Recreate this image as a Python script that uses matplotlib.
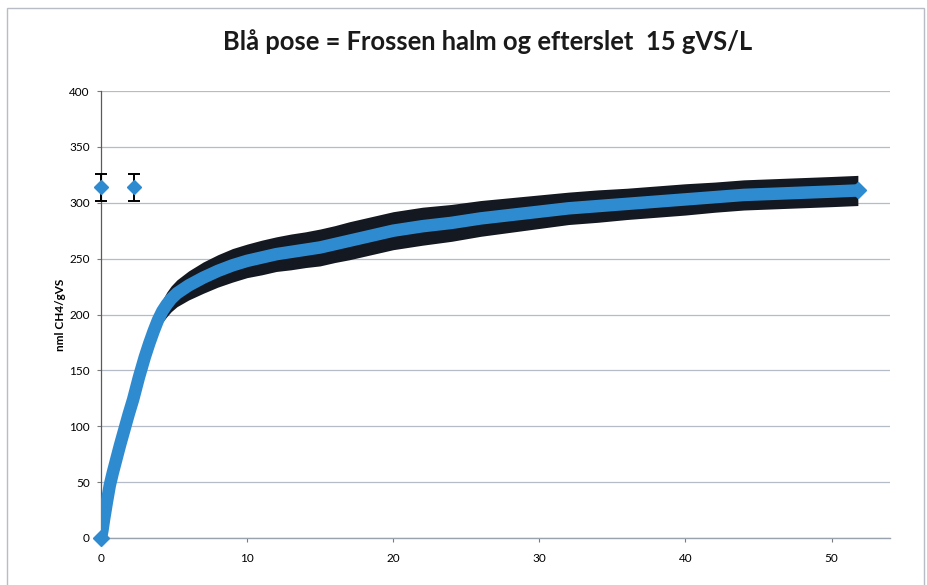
import matplotlib
matplotlib.use("Agg")
import matplotlib.pyplot as plt
from matplotlib.patches import Rectangle

# ---- data ----
days = [0, 0.1, 0.2, 0.4, 0.6, 0.8, 1.0, 1.3, 1.6, 1.9, 2.2, 2.6, 3.0, 3.3, 3.6,
        3.9, 4.2, 4.5, 4.8, 5.2, 6, 7, 8, 9, 10, 11, 12, 13, 14, 15, 16, 17, 18,
        19, 20, 22, 24, 26, 28, 30, 32, 34, 36, 38, 40, 42, 44, 46, 48, 50, 51.8]
methane = [0, 7, 16, 32, 47, 58, 68, 83, 97, 111, 124, 144, 162, 174, 185,
           195, 203, 209, 214, 219, 226, 233, 239, 244, 248, 251, 254, 256, 258,
           260, 263, 266, 269, 272, 275, 279, 282, 286, 289, 292, 295, 297, 299,
           301, 303, 305, 307, 308, 309, 310, 311]
methane_err = [0, 0.5, 1, 1.5, 2, 2.5, 3, 3.5, 4, 4.5, 5, 5.5, 6, 7, 8,
               9, 10, 11, 11.5, 12, 13, 14, 14.5, 15, 15, 15.5, 15.5, 16, 16,
               16.5, 16.5, 17, 17, 17, 17, 17, 16.5, 16, 15.5, 15, 14.5, 14.5,
               14, 14, 14, 13.5, 13.5, 13.5, 13.5, 13.5, 13.5]

ref_days = [0, 2.25]
ref_values = [314, 314]
ref_err = [12, 12]

title = "Blå pose = Frossen halm og efterslet  15 gVS/L"
ylabel = "nml CH4/gVS"
xticks = [0, 10, 20, 30, 40, 50]
yticks = [0, 50, 100, 150, 200, 250, 300, 350, 400]

BLUE = "#2f8bd0"

W, H = 928, 585
fig = plt.figure(figsize=(W / 100, H / 100), dpi=100)

# chart border (scanned Excel chart frame)
fig.patches.append(Rectangle((7 / W, -0.05), (924 - 7) / W, 1.05 - 8 / H,
                             transform=fig.transFigure, fill=False,
                             edgecolor="#b8bcc4", lw=1.0))

ax = fig.add_axes([101 / W, 47 / H, (890 - 101) / W, (538 - 91) / H])
ax.set_xlim(0, 54)
ax.set_ylim(0, 400)

ax.set_yticks(yticks)
ax.set_xticks(xticks)
ax.yaxis.grid(True, color="#b5bcc8", lw=0.9)
ax.set_axisbelow(True)

# error band (dense error bars) and mean curve
lower = [m - e for m, e in zip(methane, methane_err)]
upper = [m + e for m, e in zip(methane, methane_err)]
ax.fill_between(days, lower, upper, color="#141820", lw=0, zorder=3)
ax.plot(days, methane, color=BLUE, lw=9, solid_capstyle="butt",
        solid_joinstyle="round", zorder=4)
ax.plot(days, methane, color=BLUE, lw=0, marker="D", ms=8,
        markevery=[0, len(days) - 1], zorder=5, clip_on=False)

# the two separate points with error bars
ax.errorbar(ref_days, ref_values, yerr=ref_err, fmt="D", color=BLUE, ms=7,
            ecolor="black", elinewidth=1.4, capsize=4, capthick=1.4,
            zorder=5, clip_on=False)

for s in ["top", "right"]:
    ax.spines[s].set_visible(False)
ax.spines["left"].set_color("#5a5a5a")
ax.spines["left"].set_linewidth(0.9)
ax.spines["bottom"].set_color("#9aa2ae")
ax.spines["bottom"].set_linewidth(1.0)

ax.tick_params(axis="both", direction="out", length=3, width=0.8,
               colors="#7a7a7a", labelcolor="black", labelsize=8.5)
ax.tick_params(axis="x", pad=8)
ax.tick_params(axis="y", pad=5)
for lbl in ax.get_xticklabels() + ax.get_yticklabels():
    lbl.set_fontfamily("Lato")

ax.set_ylabel(ylabel, fontsize=8.5, fontweight="bold", family="Lato", labelpad=2)

fig.text(488 / W, 1 - 42 / H, title, ha="center", va="center",
         fontsize=18.4, fontweight="bold", family="Lato", color="#1a1a1a")

fig.savefig("out.png", dpi=100)
